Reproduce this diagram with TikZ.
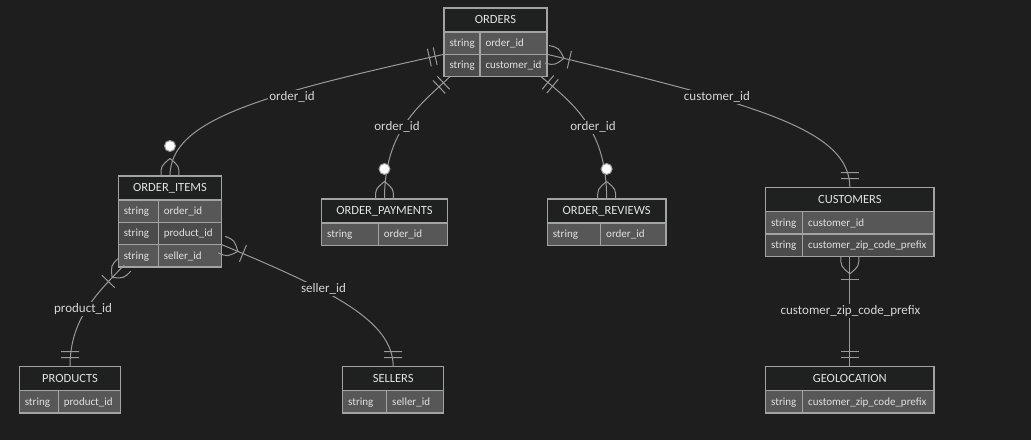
\documentclass[tikz,border=0pt]{standalone}
\usepackage{fontspec}
\setmainfont{Carlito}
\usetikzlibrary{decorations.markings}
\definecolor{bg}{HTML}{1E1E1E}
\definecolor{titlebg}{HTML}{1F2020}
\definecolor{rowodd}{HTML}{575757}
\definecolor{roweven}{HTML}{4B4B4B}
\definecolor{boxline}{HTML}{A3A3A3}
\definecolor{linec}{HTML}{9A9A9A}
\definecolor{txt}{HTML}{E2E2E2}
\definecolor{lbltxt}{HTML}{D6D6D6}
\newcommand\crowfoot{\draw[markline] (-17.5pt,0pt) .. controls (-10pt,9pt) .. (0pt,9pt) (-17.5pt,0pt) .. controls (-10pt,-9pt) .. (0pt,-9pt);}
\tikzset{
  markline/.style={draw=linec, line width=1pt},
  edge/.style={draw=linec, line width=1pt},
  startone/.style={postaction={decorate,decoration={markings,
      mark=at position 0.01pt with {\draw[markline] (9pt,-9pt) -- (9pt,9pt) (15pt,-9pt) -- (15pt,9pt);}}}},
  endzeromany/.style={postaction={decorate,decoration={markings,
      mark=at position -0.01pt with {\crowfoot\draw[markline,fill=white] (-30pt,0pt) circle[radius=5.5pt];}}}},
  endonemany/.style={postaction={decorate,decoration={markings,
      mark=at position -0.01pt with {\crowfoot\draw[markline] (-23pt,-9pt) -- (-23pt,9pt);}}}},
  cell/.style={draw=boxline, line width=1.2pt, minimum height=22.3pt, inner xsep=5.5pt, inner ysep=0pt, outer sep=0pt,
      anchor=north west, align=left, text=txt, font=\fontsize{11}{12}\selectfont, text height=8.5pt, text depth=1.5pt},
  titlecell/.style={draw=boxline, line width=1.2pt, fill=titlebg, text=txt, font=\fontsize{12.5}{14}\selectfont,
      minimum height=24pt, inner xsep=5.5pt, inner ysep=0pt, outer sep=0pt, align=center, anchor=north west,
      text height=9pt, text depth=2pt},
  elabel/.style={fill=bg, text=lbltxt, font=\fontsize{13}{14}\selectfont, inner sep=1.5pt},
}
% name, x, y, text width, title
\newcommand\ertitle[5]{\node[titlecell, text width=#4pt] (#1) at (#2,#3) {#5};}
% name, x, y, type text width, name text width, fill, attribute
\newcommand\errow[7]{%
  \node[cell, fill=#6, text width=#4pt] (#1a) at (#2,#3) {string};
  \node[cell, fill=#6, text width=#5pt] (#1b) at (#1a.north east) {#7};}
\begin{document}
\begin{tikzpicture}[x=1pt,y=-1pt]
\fill[bg] (0,0) rectangle (1031,440);
\useasboundingbox (0,0) rectangle (1031,440);

% ORDERS
\ertitle{ot}{444}{8}{92}{ORDERS}
\errow{o1}{444}{32}{25}{56}{rowodd}{order\_id}
\errow{o2}{444}{54.3}{25}{56}{roweven}{customer\_id}
% ORDER_ITEMS
\ertitle{oit}{118.3}{176}{92.4}{ORDER\_ITEMS}
\errow{oi1}{118.3}{200}{29}{52.4}{rowodd}{order\_id}
\errow{oi2}{118.3}{222.3}{29}{52.4}{roweven}{product\_id}
\errow{oi3}{118.3}{244.6}{29}{52.4}{rowodd}{seller\_id}
% ORDER_PAYMENTS
\ertitle{opt}{321.7}{199}{114.6}{ORDER\_PAYMENTS}
\errow{op1}{321.7}{223}{45.6}{58}{rowodd}{order\_id}
% ORDER_REVIEWS
\ertitle{ort}{547.3}{199}{107.7}{ORDER\_REVIEWS}
\errow{or1}{547.3}{223}{42.4}{54.3}{rowodd}{order\_id}
% CUSTOMERS
\ertitle{cut}{765.7}{187.7}{157.3}{CUSTOMERS}
\errow{cu1}{765.7}{211.7}{26}{120.3}{rowodd}{customer\_id}
\errow{cu2}{765.7}{234}{26}{120.3}{roweven}{customer\_zip\_code\_prefix}
% PRODUCTS
\ertitle{prt}{19.3}{366.7}{90.4}{PRODUCTS}
\errow{pr1}{19.3}{390.7}{28}{51.4}{rowodd}{product\_id}
% SELLERS
\ertitle{set}{342.7}{366.7}{90}{SELLERS}
\errow{se1}{342.7}{390.7}{33}{46}{rowodd}{seller\_id}
% GEOLOCATION
\ertitle{get}{765.7}{366.7}{157.3}{GEOLOCATION}
\errow{ge1}{765.7}{390.7}{26}{120.3}{rowodd}{customer\_zip\_code\_prefix}

% connectors
\draw[edge, startone, endzeromany] (o1a.south west) .. controls +(-184,40.7) and +(0,-56) .. (oit.north);
\draw[edge, startone, endzeromany] ([xshift=6pt]o2a.south west) .. controls +(-30,28.4) and +(0,-69) .. (opt.north);
\draw[edge, startone, endzeromany] ([xshift=-6pt]o2b.south east) .. controls +(34,28.4) and +(0,-69) .. (ort.north);
\draw[edge, startone, endonemany] (cut.north) .. controls +(0,-57.7) and +(212.7,50.7) .. (o1b.south east);
\draw[edge, startone, endonemany] (prt.north) .. controls +(0,-46.7) and +(-29.3,30.3) .. ([xshift=6pt,yshift=2pt]oi3a.south west);
\draw[edge, startone, endonemany] (set.north) .. controls +(0,-46.7) and +(108.3,45.4) .. (oi2b.south east);
\draw[edge, startone, endonemany] (get.north) -- (cut.north |- cu2b.south);

% labels
\node[elabel] (l1) at (292,97) {order\_id};
\node[elabel] (l2) at (397,127) {order\_id};
\node[elabel] (l3) at (593,127) {order\_id};
\node[elabel] (l4) at (717,97) {customer\_id};
\node[elabel] (l5) at (83,309) {product\_id};
\node[elabel] (l6) at (323.5,289) {seller\_id};
\node[elabel] (l7) at (850.5,311) {customer\_zip\_code\_prefix};
\end{tikzpicture}
\end{document}
